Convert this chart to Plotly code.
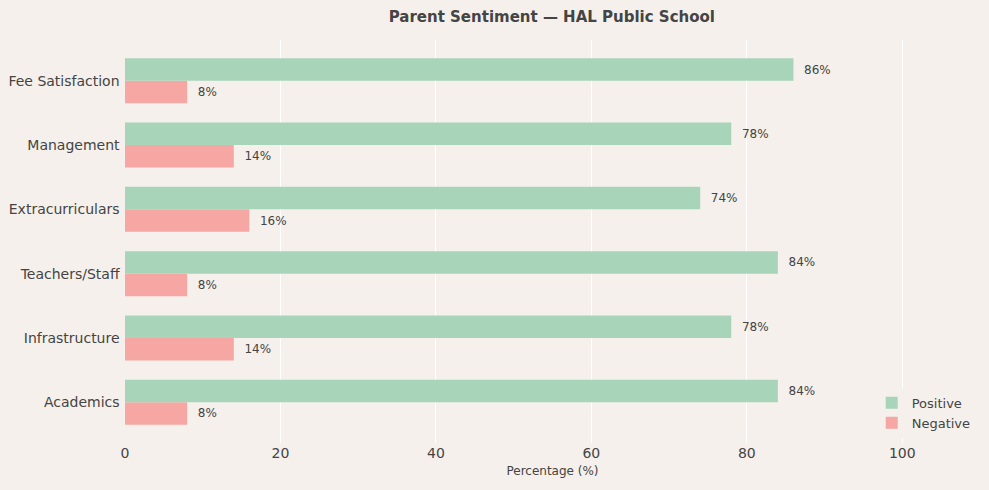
import plotly.graph_objects as go

categories = ["Academics", "Infrastructure", "Teachers/Staff", "Extracurriculars", "Management", "Fee Satisfaction"]
positive = [84, 78, 84, 74, 78, 86]
negative = [8, 14, 8, 16, 14, 8]

BG = "#f5f0eb"
TEXT = "#444444"
FONT = "DejaVu Sans"

fig = go.Figure()

# negative first so that positive sits on top in each group
fig.add_trace(
    go.Bar(
        y=categories,
        x=negative,
        orientation="h",
        name="Negative",
        marker=dict(color="#f6a6a3", line_width=0),
        text=[f"  {v}%" for v in negative],
        textposition="outside",
        textfont=dict(size=12, color=TEXT, family=FONT),
        cliponaxis=False,
    )
)
fig.add_trace(
    go.Bar(
        y=categories,
        x=positive,
        orientation="h",
        name="Positive",
        marker=dict(color="#a8d5ba", line_width=0),
        text=[f"  {v}%" for v in positive],
        textposition="outside",
        textfont=dict(size=12, color=TEXT, family=FONT),
        cliponaxis=False,
    )
)

fig.update_layout(
    width=989,
    height=490,
    barmode="group",
    bargap=0.3,
    bargroupgap=0,
    paper_bgcolor=BG,
    plot_bgcolor=BG,
    font=dict(family=FONT, color=TEXT, size=14),
    title=dict(
        text="<b>Parent Sentiment — HAL Public School</b>",
        x=0.558,
        xanchor="center",
        y=0.965,
        yanchor="middle",
        font=dict(size=15, color=TEXT, family=FONT),
    ),
    xaxis=dict(
        range=[0, 110],
        tickvals=[0, 20, 40, 60, 80, 100],
        showgrid=True,
        gridcolor="#ffffff",
        gridwidth=1.3,
        zeroline=False,
        showline=False,
        ticks="",
        tickfont=dict(size=14, color=TEXT),
        title=dict(text="Percentage (%)", font=dict(size=12, color=TEXT), standoff=6),
    ),
    yaxis=dict(
        range=[-0.635, 5.635],
        showgrid=False,
        zeroline=False,
        showline=False,
        ticks="",
        ticksuffix=" ",
        tickfont=dict(size=14, color=TEXT),
    ),
    legend=dict(
        x=0.995,
        y=0.075,
        xanchor="right",
        yanchor="middle",
        traceorder="reversed",
        bgcolor=BG,
        font=dict(size=13, color=TEXT),
        itemwidth=30,
    ),
    margin=dict(l=125, r=9, t=40, b=47),
)

fig.write_html(
    "out.html",
    config={"displayModeBar": False},
    post_script="document.body.style.margin='0';",
)
